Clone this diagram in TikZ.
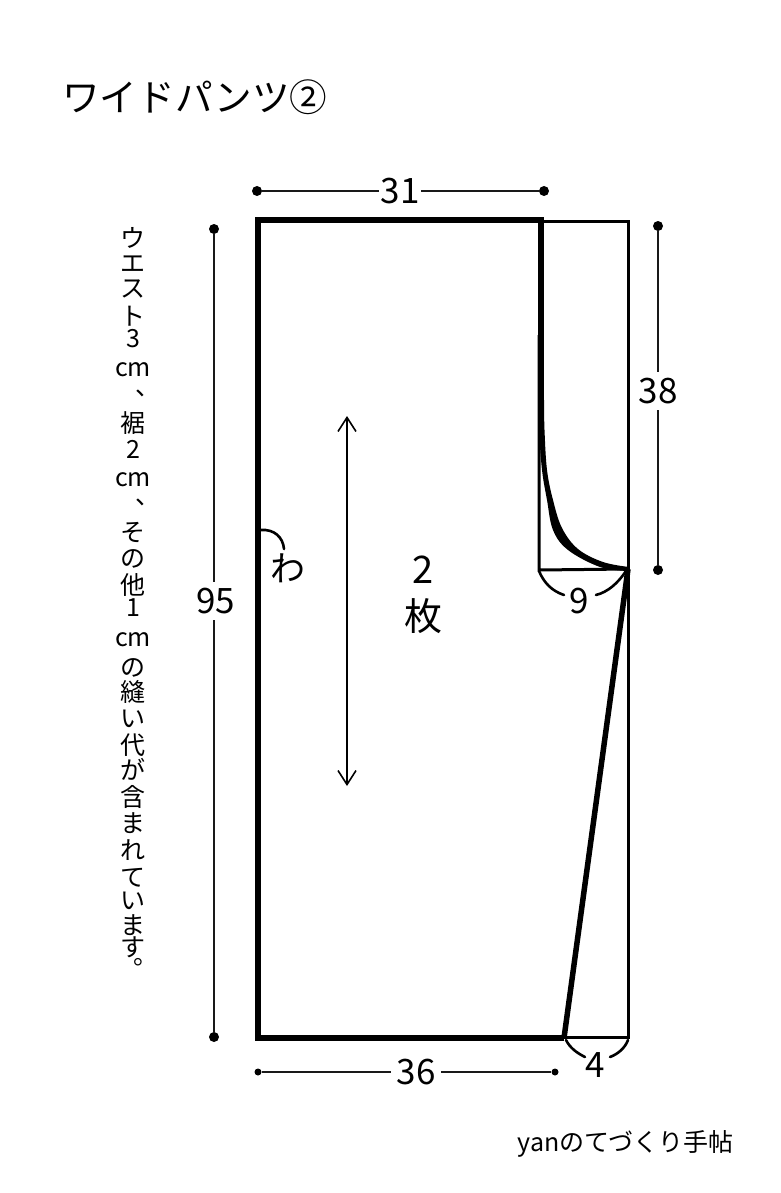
\documentclass[tikz,border=0pt]{standalone}
\usepackage{fontspec}
\setmainfont{Noto Sans CJK JP}
\usetikzlibrary{arrows.meta}
\newcommand{\tightlines}{\lineskiplimit=-50pt\relax}
\tikzset{
  x=1pt,y=-1pt,
  heavy/.style={line width=5.5pt,line cap=butt,line join=miter},
  thin line/.style={line width=3pt,line cap=butt},
  dimline/.style={line width=2pt,black!90},
  tick/.style={line width=2.6pt,line cap=round},
  dimdot/.style={circle,fill=black,inner sep=0pt,minimum size=10pt},
  dimlabel/.style={font=\fontsize{35}{38}\selectfont,inner sep=0pt,minimum width=42pt,minimum height=38pt},
}
\begin{document}
\begin{tikzpicture}
\useasboundingbox (0,0) rectangle (781,1193);
\fill[white] (0,0) rectangle (781,1193);
% pattern corners
\coordinate (TL) at (258,220);
\coordinate (TM) at (541,220);
\coordinate (TN) at (541,221);
\coordinate (TR) at (628,221);
\coordinate (BL) at (258,1038);
\coordinate (BM) at (564,1038);
\coordinate (BN) at (564,1037.5);
\coordinate (BR) at (628,1037.5);
\coordinate (CR) at (628,569);
\coordinate (CL) at (539,570);
\coordinate (CT) at (539,335);
\coordinate (SM) at (541,402);
% thin construction lines
\draw[thin line] (TN) -- (TR) -- (BR) -- (BN);
\draw[thin line] (CT) -- (CL) -- (CR);
% heavy outline
\draw[heavy] (TM) -- (TL) -- (BL) -- (BM);
\draw[heavy,line width=6pt] (541,217) -- (SM);
\fill plot[smooth,tension=0.6] coordinates {(544,400) (544.5,430) (547,470) (553,500) (562,528) (578,549) (603,562) (629,567)}
  -- plot[smooth,tension=0.6] coordinates {(628,571) (600,567) (568,550) (553,530) (547,500) (542,470) (539,430) (538,400)} -- cycle;
\draw[heavy] (CR) -- (BM);
% title and captions
\node[anchor=west,inner sep=0pt,font=\fontsize{37.6}{40}\selectfont] (title) at (62,97) {ワイドパンツ②};
\node[anchor=east,inner sep=0pt,font=\fontsize{25}{28}\selectfont] (credit) at (734,1144) {yanのてづくり手帖};
\node[anchor=north,inner sep=0pt,align=center,font=\fontsize{25}{26}\selectfont\tightlines] (note) at (133,227) {ウ\\[-1pt]エ\\[-1pt]ス\\[2pt]ト\\[-3.5pt]3\\[2.6pt]cm\\[-6.6pt]\hspace*{30pt}、\\[10.5pt]裾\\[.5pt]2\\[1.6pt]cm\\[-7.6pt]\hspace*{30pt}、\\[10.5pt]そ\\の\\[1pt]他\\[-3.5pt]1\\[3.6pt]cm\\[4pt]の\\[-1pt]縫\\い\\[1pt]代\\[-1pt]が\\[1pt]含\\ま\\[1pt]れ\\[1pt]て\\[-3pt]い\\[-1pt]ま\\[-4pt]す\\[-17.5pt]\hspace*{26pt}。};
% dimensions
\node[dimdot] (d31a) at (257,191) {};
\node[dimdot] (d31b) at (544,191) {};
\node[dimlabel] (l31) at (400,191) {31};
\draw[dimline] (d31a) -- (l31) -- (d31b);
\node[dimdot] (d95a) at (214,229) {};
\node[dimdot] (d95b) at (214,1037) {};
\node[dimlabel] (l95) at (214,601) {\hspace*{3pt}95};
\draw[dimline] (d95a) -- (l95) -- (d95b);
\node[dimdot] (d38a) at (658,226) {};
\node[dimdot] (d38b) at (658,570) {};
\node[dimlabel] (l38) at (658,391) {38};
\draw[dimline] (d38a) -- (l38) -- (d38b);
\node[dimdot,minimum size=7pt] (d36a) at (258,1072) {};
\node[dimdot,minimum size=7pt] (d36b) at (555,1072) {};
\node[dimlabel,minimum width=50pt] (l36) at (416,1072) {\raisebox{-1pt}{36}};
\draw[dimline] (d36a) -- (l36) -- (d36b);
% small arcs with values
\node[dimlabel,minimum width=20pt] (l9) at (579,601) {9};
\node[dimlabel,minimum width=20pt] (l4) at (595,1065) {4};
\draw[tick] (539,571) .. controls (544,583) and (552,591) .. (564,595);
\draw[tick] (626,571) .. controls (618,583) and (608,592) .. (596,595);
\draw[tick] (566,1040) .. controls (570,1048) and (577,1053) .. (585,1057);
\draw[tick] (628,1040) .. controls (625,1048) and (618,1054) .. (610,1057);
% fold mark
\node[inner sep=0pt,font=\fontsize{35}{36}\selectfont] (wa) at (288,568) {わ};
\draw[tick] (261,530) .. controls (274,529) and (283,537) .. (284,549);
% grain arrow and count
\node[inner sep=0pt,align=center,font=\fontsize{38}{47}\selectfont] (count) at (423,595) {2\\枚};
\coordinate (ga) at (347,416);
\coordinate (gb) at (347,786);
\draw[line width=2pt,{Straight Barb[length=14pt,width=18pt,line width=1.6pt]}-{Straight Barb[length=14pt,width=18pt,line width=1.6pt]}] (ga) -- (gb);
\end{tikzpicture}
\end{document}
